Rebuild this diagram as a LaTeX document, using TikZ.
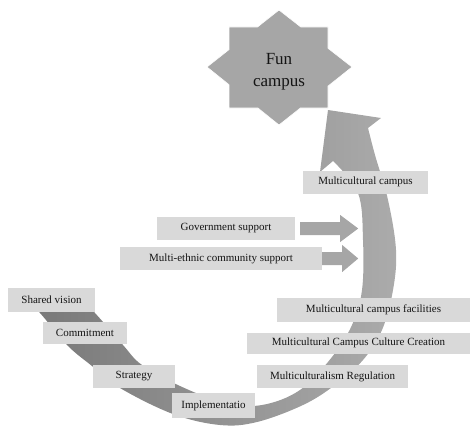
\documentclass[tikz,border=0pt]{standalone}
\usepackage{fontspec}
\setmainfont{Liberation Serif}
\usetikzlibrary{positioning}
\definecolor{boxgray}{HTML}{D9D9D9}
\definecolor{stargray}{HTML}{A6A6A6}
\definecolor{darkband}{HTML}{777777}
\definecolor{lightband}{HTML}{ABABAB}
\definecolor{textgray}{HTML}{141414}
% block arrow: tail point, shaft length, head length
\newcommand{\blockarrow}[3]{%
    \fill[stargray] (#1) ++(0,-6.5) -- ++(#2,0) -- ++(0,-7) -- ++(#3,13.5) -- ++(-#3,13.5) -- ++(0,-7) -- ++(-#2,0) -- cycle;%
}

\begin{document}
\begin{tikzpicture}[x=1pt,y=-1pt,
box/.style={fill=boxgray,text=textgray,inner sep=0pt,minimum height=23pt,font=\fontsize{11}{12}\selectfont}]
\useasboundingbox (0,0) rectangle (470,428);

%curved band, outer edge first, then arrow head, then inner edge back
\shade[left color=darkband,right color=lightband]
    plot[smooth,tension=0.6] coordinates {(24,298) (40,313) (67,345) (92,366) (120,388) (173,414) (220,425) (257,422) (303,405) (335,385) (363,360) (382,330) (393,290) (396,250) (388,200) (375,155) (368,128)}
    -- (381,118) -- (328,110) -- (320,172) -- (333,161)
    -- plot[smooth,tension=0.6] coordinates {(333,161) (358,193) (363,240) (362,290) (352,325) (332,357) (300,390) (262,405) (225,403) (180,386) (142,365) (123,345) (95,313) (72,290)}
    -- cycle;

%star
\fill[stargray,draw=white,line width=0.6pt] (279,10) -- (300.8,27) -- (328,27) -- (328,48.3) -- (352,67)
    -- (328,86.1) -- (328,108) -- (300.4,108) -- (279,125) -- (257.9,108) -- (229,108)
    -- (229,84.7) -- (207,67) -- (229,49.6) -- (229,27) -- (257.5,27) -- cycle;
\node[font=\fontsize{17}{22}\selectfont,align=center,text=textgray] (fun) at (279,72) {Fun\\campus};

%boxes
\node[box,minimum width=125pt] (mcampus) at (365.5,182) {Multicultural campus};
\node[box,minimum width=138pt] (gov) at (226,228.5) {Government support};
\node[box,minimum width=202pt] (ethnic) at (221,258.5) {Multi-ethnic community support};
\node[box,minimum width=193pt,minimum height=24pt] (facil) at (373.5,310) {Multicultural campus facilities};
\node[box,minimum width=223pt,minimum height=21pt] (culture) at (358.5,343) {Multicultural Campus Culture Creation};
\node[box,minimum width=151pt] (regul) at (332.5,376.5) {Multiculturalism Regulation};
\node[box,minimum width=87pt,minimum height=24pt] (vision) at (51.5,300) {Shared vision};
\node[box,minimum width=84pt,minimum height=22pt] (commit) at (85,333) {Commitment};
\node[box,minimum width=82pt] (strat) at (134,376.5) {Strategy};
\node[box,minimum width=83pt,minimum height=25pt] (impl) at (213.5,405.5) {Implementatio};

%support arrows
\coordinate[right=5pt of gov] (govtail);
\blockarrow{govtail}{40}{18}
\blockarrow{ethnic.east}{20}{16}
\end{tikzpicture}
\end{document}
